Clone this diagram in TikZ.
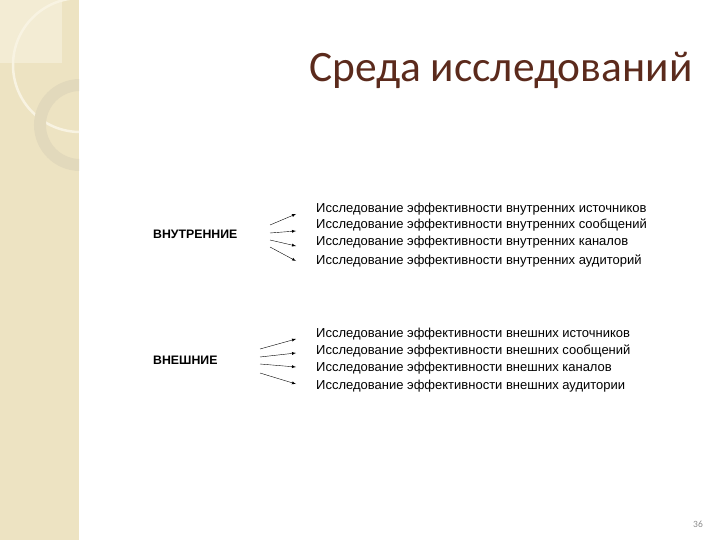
\documentclass[tikz,border=0pt]{standalone}
\usepackage{fontspec}
\setmainfont{Liberation Sans}
\newfontfamily\titlefont{Carlito}
\definecolor{strip}{HTML}{EDE3C2}
\definecolor{stripligh}{HTML}{F3ECD4}
\definecolor{ringthick}{HTML}{E2D9BC}
\definecolor{ringthin}{HTML}{F8F3E2}
\definecolor{titlebrown}{HTML}{5B2A1C}
\tikzset{
  item/.style={anchor=base west, inner sep=0pt, font=\fontsize{13}{15}\selectfont},
  side/.style={anchor=base west, inner sep=0pt, font=\bfseries\fontsize{12.3}{14}\selectfont},
  arr/.style={thin, -latex}
}
\begin{document}
\begin{tikzpicture}[x=1pt, y=-1pt]
      \useasboundingbox (0, 0) rectangle (720, 540);
      % left strip
      \fill [strip] (0, 0) rectangle (79, 540);
      \fill [stripligh] (0, 0) rectangle (62, 63);
      \begin{scope}
        \clip (0, 0) rectangle (79, 540);
        \draw [ringthin, line width=2.5pt] (80, 65) circle (67);
        \draw [ringthick, line width=12pt] (80, 125) circle (40);
      \end{scope}
      % title
      \node (title) [anchor=base west, inner sep=0pt, text=titlebrown,
                     font=\titlefont\fontsize{43.4}{50}\selectfont] at (309, 82) {Среда исследований};
      % groups
      \node (in) [side] at (153, 239) {ВНУТРЕННИЕ};
      \node (ex) [side] at (153, 364) {ВНЕШНИЕ};
      \draw (316, 212) node (in1) [item] {Исследование эффективности внутренних источников}
            (316, 229) node (in2) [item] {Исследование эффективности внутренних сообщений}
            (316, 245) node (in3) [item] {Исследование эффективности внутренних каналов}
            (316, 264) node (in4) [item] {Исследование эффективности внутренних аудиторий};
      \draw (316, 337) node (ex1) [item] {Исследование эффективности внешних источников}
            (316, 354) node (ex2) [item] {Исследование эффективности внешних сообщений}
            (316, 371) node (ex3) [item] {Исследование эффективности внешних каналов}
            (316, 389) node (ex4) [item] {Исследование эффективности внешних аудитории};
      \coordinate (a1) at (270, 225);
      \coordinate (a2) at (270, 233);
      \coordinate (a3) at (270, 240);
      \coordinate (a4) at (270, 247);
      \coordinate (b1) at (260, 349);
      \coordinate (b2) at (260, 357);
      \coordinate (b3) at (260, 364);
      \coordinate (b4) at (260, 373);
      \draw [arr] (a1) -- (296, 214) coordinate (e1);
      \draw [arr] (a2) -- (296, 231) coordinate (e2);
      \draw [arr] (a3) -- (296, 246) coordinate (e3);
      \draw [arr] (a4) -- (296, 261) coordinate (e4);
      \draw [arr] (b1) -- (296, 339) coordinate (f1);
      \draw [arr] (b2) -- (296, 353) coordinate (f2);
      \draw [arr] (b3) -- (296, 367) coordinate (f3);
      \draw [arr] (b4) -- (296, 384) coordinate (f4);
      % page number
      \node (page) [anchor=base, inner sep=0pt, text=black!45, font=\titlefont\fontsize{9.5}{11}\selectfont] at (698, 527) {36};
\end{tikzpicture}
\end{document}
